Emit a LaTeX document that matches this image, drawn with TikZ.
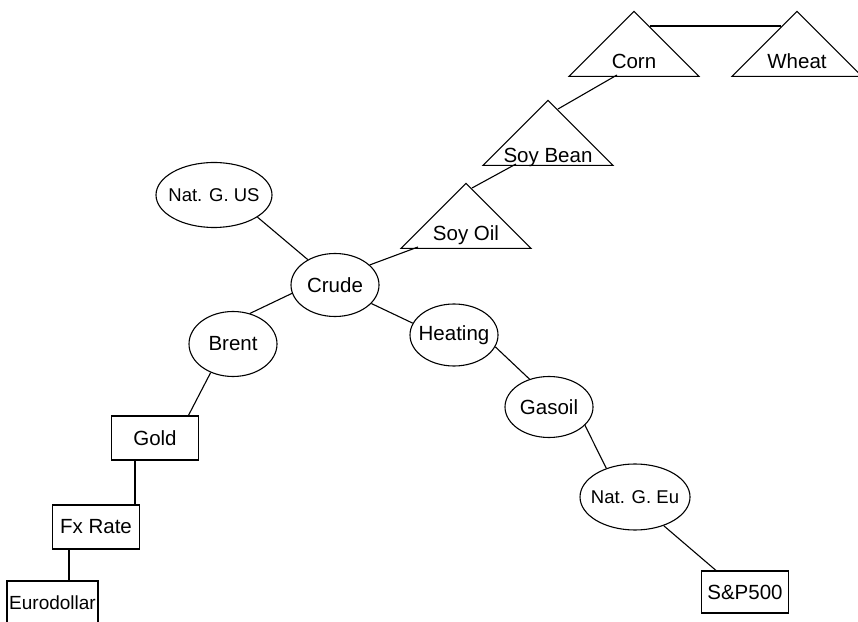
\documentclass[tikz,border=0pt]{standalone}
\usepackage{fontspec}
\setmainfont{Liberation Sans}
\usetikzlibrary{shapes.geometric,calc}
\newcommand\tlabel[1]{\makebox[0pt]{#1}}

\begin{document}
\begin{tikzpicture}[x = 1pt, y = 1pt, line width = 1.1pt,
  lbl/.style = {font = \fontsize{20.5}{24}\selectfont},
  small/.style = {font = \fontsize{18.5}{22}\selectfont},
  oval/.style = {draw, ellipse, lbl, inner xsep = -12pt, inner ysep = 0pt, minimum width = 88, minimum height = 63},
  box/.style = {draw, rectangle, lbl, inner sep = 0pt, minimum width = 87, minimum height = 44},
  tri/.style = {draw, isosceles triangle, isosceles triangle stretches, shape border rotate = 90, lbl, inner xsep = 1pt, inner ysep = -18pt, text height = 37pt, text depth = 0pt, minimum width = 130, minimum height = 65, anchor = apex}]
\useasboundingbox (0,0) rectangle (858,621);
\node[tri] (corn) at (634,611) {\tlabel{Corn}};
\node[tri] (wheat) at (797,611) {\tlabel{Wheat}};
\node[tri, text height = 47pt, inner ysep = -23pt] (soybean) at (548,522) {\tlabel{Soy Bean}};
\node[tri] (soyoil) at (466,439) {\tlabel{Soy Oil}};
\node[oval, small, minimum width = 116, minimum height = 65] (natgus) at (214,426) {Nat. G. US};
\node[oval] (crude) at (335,336) {Crude};
\node[oval, minimum height = 65] (brent) at (233,277) {Brent};
\node[oval, minimum height = 62] (heating) at (454,286) {Heating};
\node[oval, minimum height = 61] (gasoil) at (549,214) {Gasoil};
\node[oval, small, minimum width = 110, minimum height = 66] (natgeu) at (635,124) {Nat. G. Eu};
\node[box] (gold) at (155,183) {Gold};
\node[box] (fxrate) at (96,94) {Fx Rate};
\node[box, font = \fontsize{19}{22}\selectfont, minimum width = 91] (euro) at (52.5,18) {Eurodollar};
\node[box, minimum height = 42] (sp) at (745,29) {S\&P500};
\draw ($(corn.apex)+(16,-16)$) -- ($(wheat.apex)+(-16,-16)$);
\draw ($(corn.apex)+(-17,-65)$) -- ($(soybean.apex)+(10,-10)$);
\draw ($(soybean.apex)+(-32,-65)$) -- ($(soyoil.apex)+(6,-6)$);
\draw ($(soyoil.apex)+(-48,-65)$) -- (crude.30);
\draw (natgus.-27) -- (crude.137);
\draw (crude.-169) -- (brent.61);
\draw (crude.-27) -- (heating.164);
\draw (brent.-128) -- (gold.34);
\draw ([xshift = -20pt]gold.south) -- ([xshift = -20pt]gold.south |- fxrate.north);
\draw ([xshift = -27pt]fxrate.south) -- ([xshift = -27pt]fxrate.south |- euro.north);
\draw (heating.-16) -- (gasoil.125);
\draw (gasoil.-27) -- (natgeu.135);
\draw (natgeu.-45) -- ([xshift = -29pt]sp.north);
\end{tikzpicture}
\end{document}
